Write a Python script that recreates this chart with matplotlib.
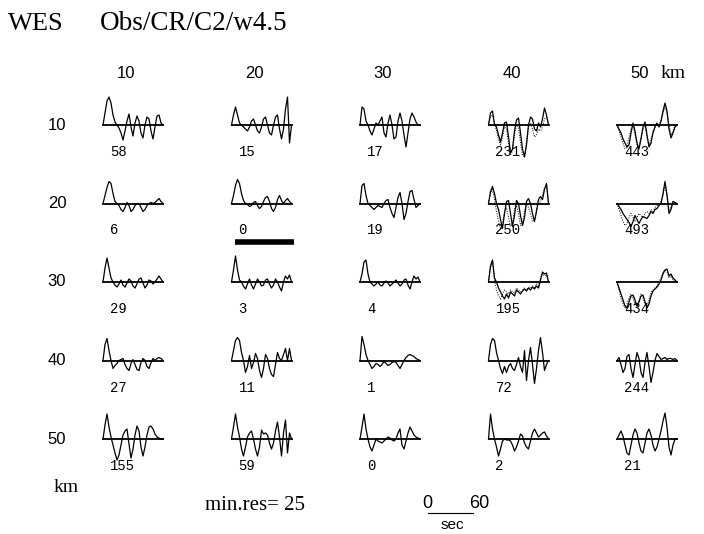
import numpy as np
import matplotlib
matplotlib.use("Agg")
import matplotlib.pyplot as plt

# grid of source positions (km) and the station label
x_km = [10, 20, 30, 40, 50]
y_km = [10, 20, 30, 40, 50]
station = "WES"
run_tag = "Obs/CR/C2/w4.5"

# residual for each grid node (rows = y, cols = x)
residuals = [
    [58, 15, 17, 231, 443],
    [6, 0, 19, 250, 493],
    [29, 3, 4, 195, 434],
    [27, 11, 1, 72, 244],
    [155, 59, 0, 2, 21],
]
min_res = 25
best_node = (1, 1)  # row, col of the preferred location

# observed traces, 31 samples over 80 s
t_len = 80.0
obs = [
    [
        [0, 12, 24, 28, 22, 10, 3, 0, -3, -8, -15, -6, 4, 11, -2, -11, 2, 9, 4, -8, -13, 0, 8, 6, -6, -14, -2, 9, 10, 2, 0],
        [0, 10, 18, 10, 2, 0, -2, -4, -6, -2, 4, 6, 0, -6, -8, -2, 6, 8, 0, -8, -10, 0, 8, 10, -4, -14, -4, 16, 28, -18, 0],
        [0, 18, 16, 4, 0, -6, -10, -4, 2, 0, 4, 8, -8, -12, 2, 10, 0, -14, -12, 4, 12, 4, -10, -22, -8, 6, 12, 8, 3, 0, 0],
        [0, 12, 14, 0, -2, -10, -17, -8, 2, 3, -12, -28, -24, -6, 5, 7, -8, -24, -32, -20, 0, 8, 6, -4, -6, 2, -2, 6, 17, 10, 0],
        [0, -4, -8, -14, -18, -22, -20, -8, 2, -6, -18, -24, -14, -2, 3, -10, -22, -18, -8, -2, 2, -2, 4, 14, 22, 14, -4, -13, -8, -2, 0],
    ],
    [
        [0, 8, 16, 22, 20, 10, 2, 0, -2, -6, -8, -4, 1, -2, -8, -6, -2, 0, 0, -4, -8, -6, -2, 0, 1, 0, 1, 3, 5, 2, 0],
        [0, 8, 18, 24, 20, 10, 3, 0, -1, -3, -2, 1, 2, -2, -5, -3, 2, 6, 7, 2, -5, -8, -4, 4, 8, 3, 0, 3, 5, 2, 0],
        [0, 18, 20, 8, 0, -2, -4, -6, -4, -2, -3, -4, 0, 3, 4, -4, -10, -14, -4, 6, 11, 0, -16, -10, 2, 12, 13, 4, -4, -2, 0],
        [0, 12, 17, 10, 0, -6, -16, -25, -10, 2, 3, -10, -23, -12, 3, 0, -12, -22, -14, 2, 5, 0, -10, -18, -8, 4, 7, 4, 14, 20, 0],
        [0, -3, -6, -10, -13, -16, -19, -23, -18, -12, -16, -20, -16, -13, -14, -15, -12, -8, -10, -6, -5, -2, 0, 10, 22, 8, -10, -6, 2, 1, 0],
    ],
    [
        [0, 14, 24, 14, 4, 0, -3, -5, -2, 2, -3, -5, -1, 3, 1, -4, -6, -2, 3, 4, -1, -6, -3, 2, 1, -2, 0, 3, 6, 3, 0],
        [0, 12, 26, 12, 2, 0, -4, -7, -2, 3, -3, -7, -2, 3, 0, -4, -3, 2, 3, -2, -6, -3, 3, 0, -5, -9, 0, 6, 3, 7, 0],
        [0, 8, 20, 22, 8, 0, -2, -4, -2, 0, -3, -4, -1, 1, -1, -4, -2, 0, 2, -1, -4, -2, 2, 3, -3, -7, 0, 6, 3, 5, 0],
        [0, 16, 22, 4, 0, -6, -10, -14, -17, -12, -16, -10, -12, -14, -8, -10, -12, -9, -7, -9, -6, -8, -5, -7, -4, -6, 2, 10, 8, 9, 0],
        [0, -6, -12, -18, -24, -26, -20, -14, -13, -18, -24, -20, -14, -13, -20, -26, -22, -14, -9, -7, -5, -2, 2, 8, 12, 13, 6, 8, 4, 2, 0],
    ],
    [
        [0, 16, 22, 10, 0, -8, -5, -3, 0, 1, 2, -4, -8, -10, -3, 1, -4, -9, -10, -2, 2, 0, -6, -8, -2, 2, 0, 2, 3, 2, 0],
        [0, 10, 20, 23, 20, 8, 0, -12, -6, 5, -8, -2, 7, 2, -10, -17, -8, 6, 2, -8, -14, -16, -4, 8, 2, 0, 6, 12, 0, 12, 0],
        [0, 24, 16, 6, 0, -4, -8, -6, -3, -4, -6, -4, -1, -3, -5, -4, -2, -1, -2, -5, -8, -4, 0, 3, 5, 6, 5, 4, 2, 1, 0],
        [0, 16, 22, 20, 8, 0, -8, -13, -6, -12, -6, -3, -8, -10, -4, 3, -6, -12, 10, -20, 0, 13, -4, -23, -8, 10, 23, 8, -10, -4, 0],
        [0, 3, -4, -12, -8, 4, 6, -8, -17, -4, 8, 2, -12, -17, -2, 8, -6, -22, -12, 0, 7, 4, 1, 2, 3, 1, 2, 2, 1, 2, 0],
    ],
    [
        [0, 14, 25, 12, 2, -6, -14, -21, -16, -6, 4, 8, 10, -5, -19, -10, 4, 13, 8, -8, -17, -8, 4, 12, 13, 10, 5, 2, 1, 0, 0],
        [0, 12, 25, 12, 2, -10, -17, -8, 2, 6, 8, 0, -10, -17, -8, 9, 5, 6, 4, -4, -10, -4, 8, 17, 2, -17, 6, 19, -14, 6, 0],
        [0, 12, 25, 10, 0, -8, -12, -6, 0, -2, -3, -4, -2, 0, 2, 1, -1, -2, 0, 6, 10, -6, -10, -2, 6, 12, 8, 4, 2, 1, 0],
        [0, 25, 10, 0, -8, -17, -10, -2, 0, -1, -1, -2, -6, -12, -8, -2, 5, 3, -4, -8, -10, -2, 6, 10, 6, 2, 4, 6, 7, 3, 0],
        [0, 4, 8, 3, -6, -14, -16, -6, 4, 10, 6, -4, -12, -14, -4, 6, 10, 4, -6, -12, -8, 0, 8, 18, 26, 12, -8, -16, -6, 0, 0],
    ],
]

# synthetics that visibly differ from the data (row, col) -> samples
syn = {
    (0, 3): [0, 8, 10, 2, -6, -14, -20, -12, -2, -4, -18, -30, -26, -10, 0, -2, -18, -30, -32, -16, -2, 2, -4, -12, -10, -4, -6, -2, 6, 8, 0],
    (0, 4): [0, -6, -12, -18, -24, -22, -12, -4, 0, -10, -20, -22, -12, -4, 0, -12, -20, -14, -6, -2, 0, 0, 4, 12, 18, 12, 0, -10, -6, 0, 0],
    (1, 3): [0, 10, 14, 4, -8, -18, -25, -20, -8, -4, -14, -23, -20, -6, -2, -10, -22, -20, -8, 0, -4, -10, -18, -16, -6, 0, 2, 8, 16, 18, 0],
    (1, 4): [0, -6, -12, -18, -22, -20, -14, -10, -14, -18, -14, -10, -12, -14, -10, -8, -10, -6, -8, -4, -2, 0, 2, 8, 18, 10, -6, -4, 2, 0, 0],
    (2, 3): [0, 14, 20, 2, -8, -14, -17, -12, -8, -10, -12, -8, -10, -11, -6, -8, -10, -8, -6, -8, -5, -6, -4, -6, -2, -4, 4, 8, 6, 7, 0],
    (2, 4): [0, -8, -16, -22, -26, -22, -16, -12, -16, -22, -24, -18, -12, -16, -22, -24, -18, -10, -8, -6, -4, 0, 4, 10, 12, 10, 4, 6, 2, 0, 0],
}

# page layout (pixels)
W, H = 704, 534
col0, col_step = 103, 128.5
row0, row_step = 125, 78.5
px_per_s = 0.75
bar_s = 60

serif = "Liberation Serif"
mono = "Liberation Mono"
sans = "Liberation Sans"

fig = plt.figure(figsize=(W / 100, H / 100), dpi=100)
ax = fig.add_axes([0, 0, 1, 1])
ax.set_xlim(0, W)
ax.set_ylim(H, 0)
ax.axis("off")

ax.text(8, 24, station, fontsize=19, family=serif, va="center")
ax.text(100, 24, run_tag, fontsize=19.5, family=serif, va="center")

for j, xk in enumerate(x_km):
    cx = col0 + col_step * j + 23
    ax.text(cx, 74, str(xk), fontsize=12, family=sans, ha="center", va="center")
ax.text(col0 + col_step * 4 + 44, 73, "km", fontsize=14, family=serif, va="center")

for i, yk in enumerate(y_km):
    ax.text(57, row0 + row_step * i, str(yk), fontsize=12, family=sans, ha="center", va="center")
ax.text(54, 487, "km", fontsize=14, family=serif, va="center")

for i in range(len(y_km)):
    y0 = row0 + row_step * i
    for j in range(len(x_km)):
        x0 = col0 + col_step * j
        a = np.array(obs[i][j], dtype=float)
        t = np.linspace(0, t_len, len(a))
        xs = x0 + t * px_per_s
        ax.plot([xs[0], xs[-1]], [y0, y0], color="black", lw=1.3)
        ax.plot(xs, y0 - a, color="black", lw=0.9)
        if (i, j) in syn:
            s = np.array(syn[(i, j)], dtype=float)
            ts = np.linspace(0, t_len, len(s))
            ax.plot(x0 + ts * px_per_s, y0 - s,
                    color="black", lw=0.7, ls=(0, (1, 1.5)))
        ax.text(x0 + 7, y0 + 27, str(residuals[i][j]), fontsize=10,
                family=mono, va="center")
        if (i, j) == best_node:
            ax.plot([xs[0] + 3, xs[-1] + 2], [y0 + 38, y0 + 38],
                    color="black", lw=4, solid_capstyle="butt")

ax.text(205, 506, "min.res= %d" % min_res, fontsize=15, family=serif, va="center")

# time scale bar
bx = 428
bar_w = bar_s * px_per_s
ax.plot([bx, bx + bar_w], [513, 513], color="black", lw=0.8)
ax.text(bx - 1, 504, "0", fontsize=13, family=sans, ha="center", va="center")
ax.text(bx + bar_w + 6, 503, "60", fontsize=13, family=sans, ha="center", va="center")
ax.text(bx + bar_w / 2 + 2, 525, "sec", fontsize=11, family=sans, ha="center", va="center")

fig.savefig("out.png", dpi=100)
